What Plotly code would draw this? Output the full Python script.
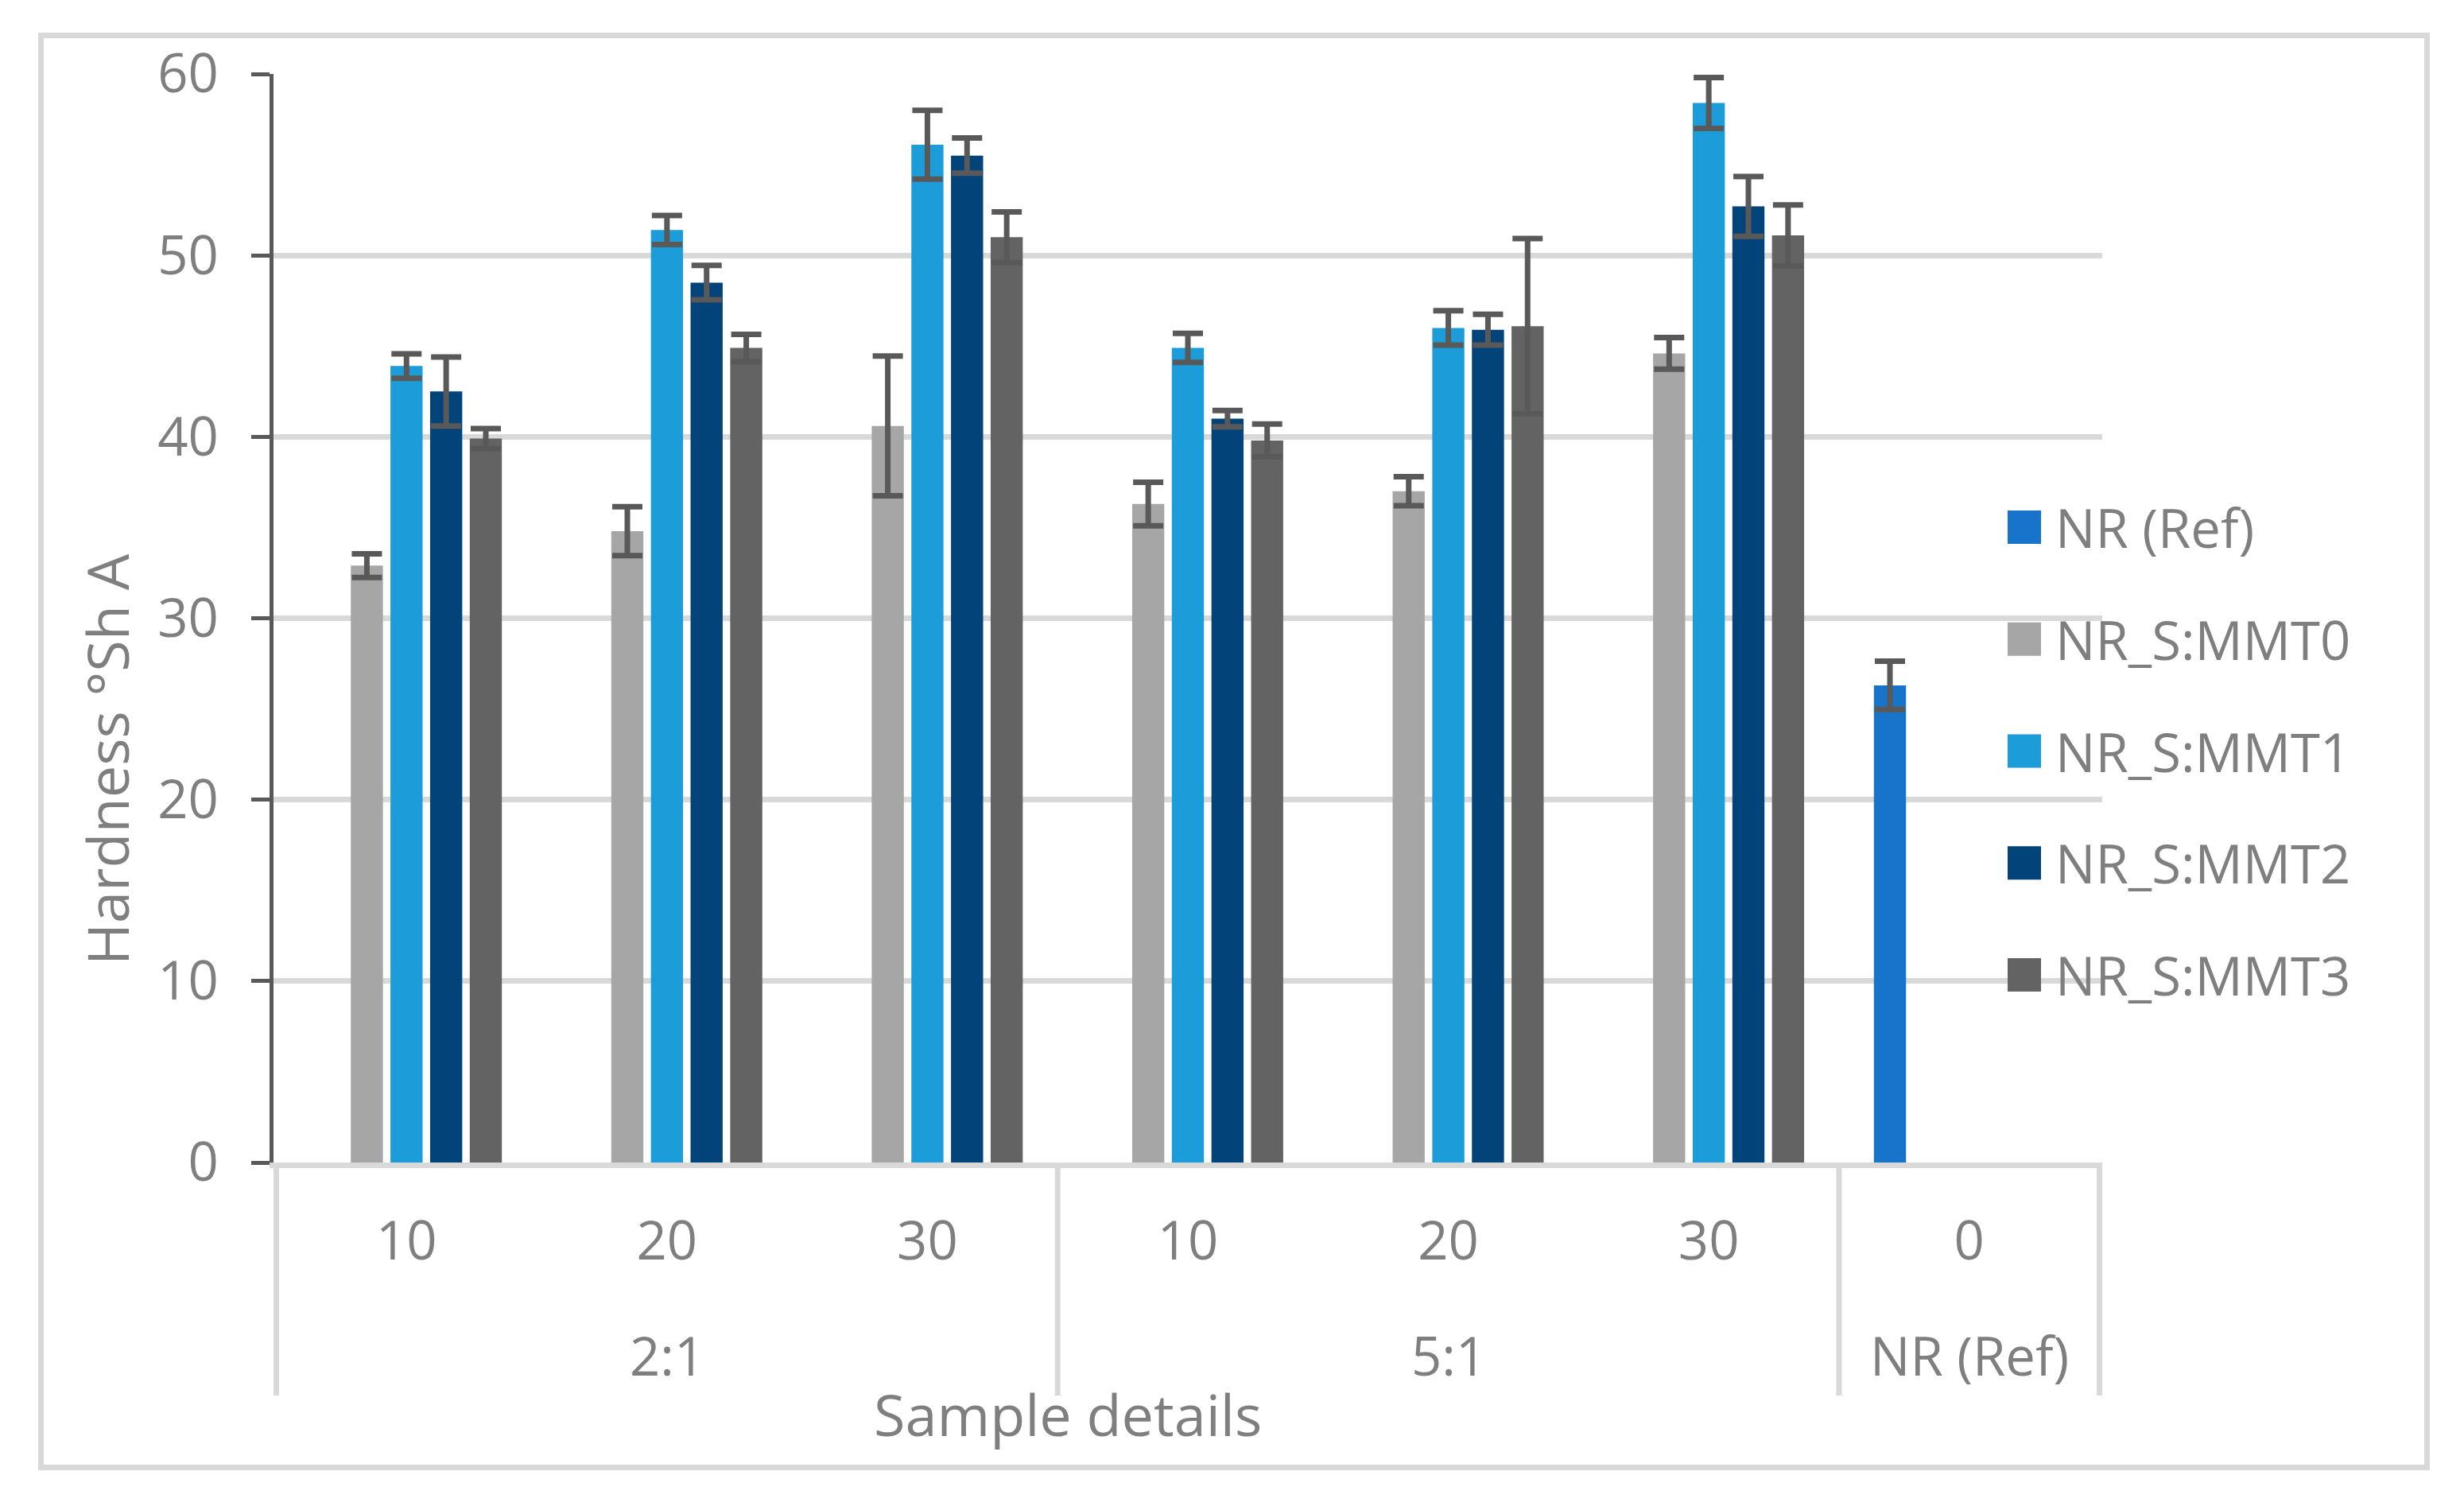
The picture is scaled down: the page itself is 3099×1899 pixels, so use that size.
import plotly.graph_objects as go

# ---------------- data ----------------
ratio = ["2:1", "2:1", "2:1", "5:1", "5:1", "5:1", "NR (Ref)"]
content = ["10", "20", "30", "10", "20", "30", "0"]

series_names = ["NR (Ref)", "NR_S:MMT0", "NR_S:MMT1", "NR_S:MMT2", "NR_S:MMT3"]

nr_ref = [None, None, None, None, None, None, 26.3]
nr_ref_err = [None, None, None, None, None, None, 1.33]

mmt0 = [32.9, 34.8, 40.6, 36.3, 37.0, 44.6, None]
mmt0_err = [0.65, 1.35, 3.85, 1.2, 0.8, 0.87, None]

mmt1 = [43.9, 51.4, 56.1, 44.9, 46.0, 58.4, None]
mmt1_err = [0.67, 0.8, 1.9, 0.8, 0.95, 1.4, None]

mmt2 = [42.5, 48.5, 55.5, 41.0, 45.9, 52.7, None]
mmt2_err = [1.9, 0.95, 0.97, 0.45, 0.85, 1.65, None]

mmt3 = [39.9, 44.9, 51.0, 39.8, 46.1, 51.1, None]
mmt3_err = [0.55, 0.75, 1.4, 0.9, 4.83, 1.68, None]

y_title = "Hardness °Sh A"
x_title = "Sample details"

# ---------------- style ----------------
colors = ["#1874CB", "#A6A6A6", "#1C9CD8", "#02437A", "#636363"]
values = [nr_ref, mmt0, mmt1, mmt2, mmt3]
errors = [nr_ref_err, mmt0_err, mmt1_err, mmt2_err, mmt3_err]

FONT = "Open Sans"
TXT = "#7F7F7F"
GRID = "#D9D9D9"
DARK = "#595959"
TICK_SIZE = 67
TITLE_SIZE = 72

OFF = 8  # default page body margin
W, H = 3099 - OFF, 1899 - OFF
PL, PR, PT, PB = 344 - OFF, 2644 - OFF, 93 - OFF, 1462 - OFF


def px_x(px):
    return (px - OFF - PL) / (PR - PL)


def px_y(py):
    return (PB - (py - OFF)) / (PB - PT)


x_keys = [f"{r} | {c}" for r, c in zip(ratio, content)]

fig = go.Figure()
for name, vals, errs, col in zip(series_names, values, errors, colors):
    fig.add_trace(go.Bar(
        name=name, x=x_keys, y=vals,
        marker=dict(color=col, line=dict(width=0)),
        error_y=dict(type="data", array=errs, visible=True,
                     color=DARK, thickness=7, width=19),
        showlegend=False,
    ))

shapes = []
annotations = []

# group dividers below the axis
groups = []
for i, r in enumerate(ratio):
    if not groups or groups[-1][0] != r:
        groups.append([r, i, i])
    else:
        groups[-1][2] = i
bounds = [groups[0][1] - 0.5] + [g[2] + 0.5 for g in groups]
for b in bounds:
    shapes.append(dict(type="line", xref="x", yref="paper", x0=b, x1=b,
                       y0=0, y1=px_y(1755), line=dict(color=GRID, width=7)))
for g in groups:
    annotations.append(dict(x=(g[1] + g[2]) / 2, xref="x", y=px_y(1704), yref="paper",
                            text=g[0], showarrow=False, xanchor="center", yanchor="middle",
                            font=dict(family=FONT, size=TICK_SIZE, color=TXT)))

# axis titles
annotations.append(dict(x=px_x(1343), xref="paper", y=px_y(1778), yref="paper",
                        text=x_title, showarrow=False, xanchor="center", yanchor="middle",
                        font=dict(family=FONT, size=TITLE_SIZE, color=TXT)))
annotations.append(dict(x=px_x(134), xref="paper", y=px_y(955), yref="paper",
                        text=y_title, showarrow=False, xanchor="center", yanchor="middle",
                        textangle=-90,
                        font=dict(family=FONT, size=TITLE_SIZE, color=TXT)))

# legend (large square swatches)
LEG_Y0, LEG_DY = 663, 140.75
SW_X0, SW_X1, TXT_X = 2525, 2567, 2583
for i, (name, col) in enumerate(zip(series_names, colors)):
    cy = LEG_Y0 + i * LEG_DY
    shapes.append(dict(type="rect", xref="paper", yref="paper",
                       x0=px_x(SW_X0), x1=px_x(SW_X1), y0=px_y(cy + 21), y1=px_y(cy - 21),
                       fillcolor=col, line=dict(width=0)))
    annotations.append(dict(x=px_x(TXT_X), xref="paper", y=px_y(cy), yref="paper",
                            text=name, showarrow=False, xanchor="left", yanchor="middle",
                            font=dict(family=FONT, size=TICK_SIZE, color=TXT)))

# chart-area border
shapes.append(dict(type="rect", xref="paper", yref="paper",
                   x0=px_x(51.5), x1=px_x(3052.5), y0=px_y(1845.5), y1=px_y(44.5),
                   line=dict(color=GRID, width=7), fillcolor="rgba(0,0,0,0)", layer="below"))

fig.update_layout(
    width=W, height=H,
    margin=dict(l=PL, r=W - PR, t=PT, b=H - PB, pad=0),
    paper_bgcolor="white", plot_bgcolor="white",
    barmode="group", bargap=0.239, bargroupgap=0.19,
    font=dict(family=FONT, color=TXT, size=TICK_SIZE),
    shapes=shapes, annotations=annotations,
    showlegend=False,
)
fig.update_xaxes(
    type="category", tickmode="array", tickvals=x_keys, ticktext=content,
    showline=True, linecolor=GRID, linewidth=7, ticks="", showgrid=False,
    tickfont=dict(family=FONT, size=TICK_SIZE, color=TXT), ticklabelstandoff=35,
)
fig.update_yaxes(
    range=[0, 60], dtick=10, showgrid=True, gridcolor=GRID, gridwidth=7,
    zeroline=False, showline=True, linecolor=DARK, linewidth=4.5,
    ticks="outside", ticklen=23, tickwidth=4.5, tickcolor=DARK,
    tickfont=dict(family=FONT, size=TICK_SIZE, color=TXT), ticklabelstandoff=28,
)

fig.write_html("out.html")
